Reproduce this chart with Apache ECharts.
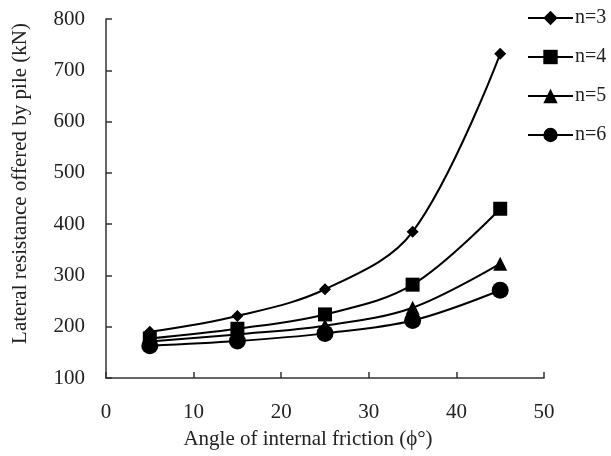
<!DOCTYPE html>
<html>
<head>
<meta charset="utf-8">
<script src="https://cdn.jsdelivr.net/npm/echarts@6/dist/echarts.min.js"></script>
<style>
  html, body { margin: 0; padding: 0; background: #fff; }
  #main { width: 611px; height: 456px; }
</style>
</head>
<body>
<div id="main"></div>
<script>
var angles = [5, 15, 25, 35, 45];
var n3 = [190, 221, 273, 385, 732];
var n4 = [177, 196, 224, 282, 430];
var n5 = [171, 185, 202, 237, 323];
var n6 = [163, 172, 187, 212, 271];
var names = ["n=3", "n=4", "n=5", "n=6"];
var symbols = ["diamond", "rect", "triangle", "circle"];
var sizes = [12, 14, 14, 17];

function pairs(ys) {
  var out = [];
  for (var i = 0; i < angles.length; i++) {
    out.push([angles[i], ys[i]]);
  }
  return out;
}

var allData = [n3, n4, n5, n6];
var series = [];
for (var k = 0; k < allData.length; k++) {
  series.push({
    name: names[k],
    type: "line",
    smooth: 0.35,
    data: pairs(allData[k]),
    symbol: symbols[k],
    symbolSize: sizes[k],
    lineStyle: { color: "#000", width: 2 },
    itemStyle: { color: "#000" }
  });
}

var chart = echarts.init(document.getElementById("main"));
var font = "Liberation Serif";
chart.setOption({
  animation: false,
  grid: { left: 106, right: 67, top: 19, bottom: 78, containLabel: false, outerBoundsMode: "none" },
  legend: {
    orient: "vertical",
    left: 527,
    top: 8,
    padding: 0,
    itemWidth: 45,
    itemHeight: 18,
    itemGap: 19,
    textStyle: { fontFamily: font, fontSize: 20, color: "#222", padding: [0, 0, 0, -3] },
    data: names
  },
  xAxis: {
    type: "value",
    min: 0, max: 50, interval: 10,
    name: "Angle of internal friction (\u03d5\u00b0)",
    nameLocation: "middle",
    nameGap: 51,
    nameTextStyle: { fontFamily: font, fontSize: 21, color: "#222", padding: [0, 34, 0, 0] },
    axisLine: { lineStyle: { color: "#333", width: 1.5 } },
    axisTick: { inside: true, length: 6, lineStyle: { color: "#333", width: 1.5 } },
    axisLabel: { fontFamily: font, fontSize: 21, color: "#222", margin: 24 },
    splitLine: { show: false }
  },
  yAxis: {
    type: "value",
    min: 100, max: 800, interval: 100,
    name: "Lateral resistance offered by pile (kN)",
    nameLocation: "middle",
    nameGap: 75,
    nameTextStyle: { fontFamily: font, fontSize: 21, color: "#222", padding: [0, 0, 0, 30] },
    axisLine: { show: true, lineStyle: { color: "#333", width: 1.5 } },
    axisTick: { show: true, inside: true, length: 6, lineStyle: { color: "#333", width: 1.5 } },
    axisLabel: { fontFamily: font, fontSize: 21, color: "#222", margin: 21 },
    splitLine: { show: false }
  },
  series: series
});
</script>
</body>
</html>
